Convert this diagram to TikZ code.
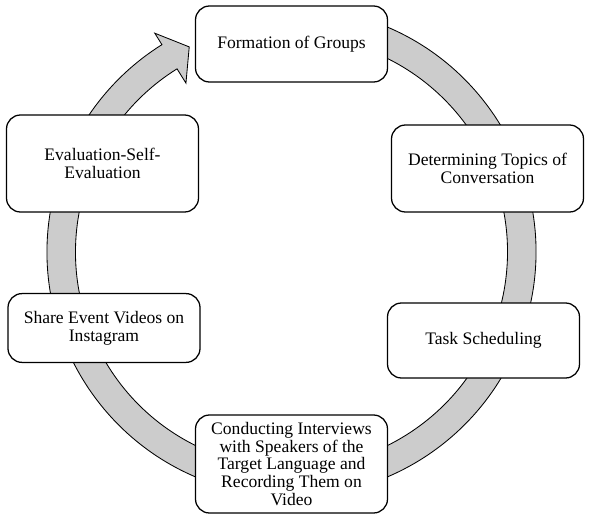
\documentclass[tikz,border=0pt]{standalone}
\usepackage{fontspec}
\setmainfont{Liberation Serif}
\begin{document}
\begin{tikzpicture}[scale=1,
  etape/.style={draw, line width=0.9pt, fill=white, rounded corners=0.35cm,
    minimum width=4.8cm, align=center, inner sep=0pt,
    font=\fontsize{12.5}{12.6}\selectfont}]

\useasboundingbox (0,0) rectangle (14.75,12.975);

% Fleche
\begin{scope}[shift={(7.2875,6.675)}]
\draw[fill=gray!40, line width=0.6pt] (75:6.1125) arc[start angle=75, end angle=-238, radius=6.1125]
  -- (122:6.45) -- (116.5:5.73) -- (122:4.98) -- (122:5.4)
  arc[start angle=122, end angle=435, radius=5.4] -- cycle;
\end{scope}

% Etapes
\node[etape, minimum height=1.9cm] (groupes) at (7.2875,11.875) {Formation of Groups};
\node[etape, minimum height=2.175cm] (sujets) at (12.1875,8.7625) {Determining Topics of\\Conversation};
\node[etape, minimum height=1.875cm] (planning) at (12.0875,4.4625) {Task Scheduling};
\node[etape, minimum height=2.45cm] (entretiens) at (7.2875,1.375) {Conducting Interviews\\with Speakers of the\\Target Language and\\Recording Them on\\Video};
\node[etape, minimum height=1.72cm] (partage) at (2.6,4.775) {Share Event Videos on\\Instagram};
\node[etape, minimum height=2.425cm] (evaluation) at (2.5625,8.8875) {Evaluation-Self-\\Evaluation};

\end{tikzpicture}
\end{document}
